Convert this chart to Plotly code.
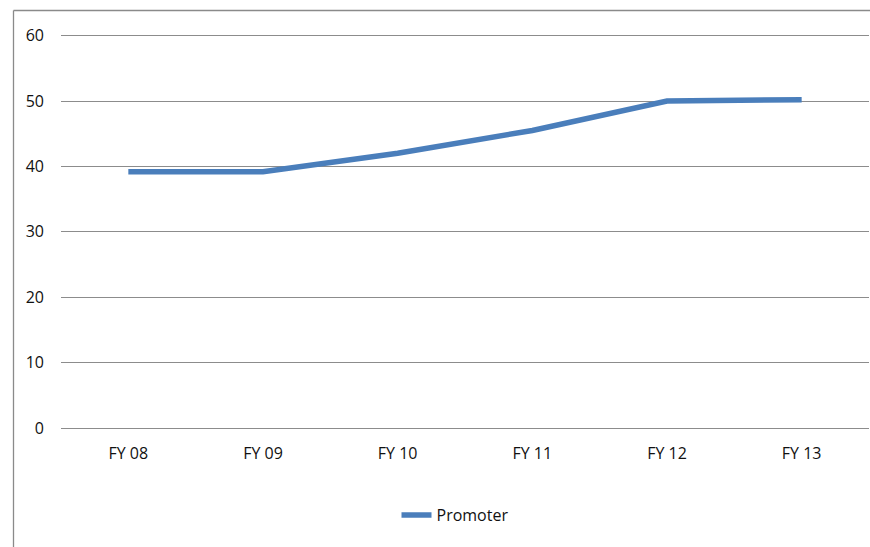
import plotly.graph_objects as go

# Promoter holding by fiscal year
years = ["FY 08", "FY 09", "FY 10", "FY 11", "FY 12", "FY 13"]
promoter = [39.2, 39.2, 42.0, 45.5, 50.0, 50.2]
y_ticks = [0, 10, 20, 30, 40, 50, 60]

W, H = 870, 547
L, R, T, B = 61, 1, 33, 119
GRID = "#8c8c8c"
TEXT = "#111111"
FONT = "Open Sans"

fig = go.Figure()
fig.add_trace(go.Scatter(
    x=years, y=promoter, mode="lines", name="Promoter",
    line=dict(color="#4A7EBB", width=5.5),
))

plot_w = W - L - R
plot_h = H - T - B

def px_x(px):
    return (px - L) / plot_w

def px_y(py):
    return (H - B - py) / plot_h

# outer chart frame (left and top edges visible)
frame = dict(color="#8a8a8a", width=1.3)
fig.add_shape(type="line", xref="paper", yref="paper",
              x0=px_x(13.5), x1=px_x(13.5), y0=px_y(10.5), y1=px_y(560), line=frame)
fig.add_shape(type="line", xref="paper", yref="paper",
              x0=px_x(13.5), x1=px_x(880), y0=px_y(10.5), y1=px_y(10.5), line=frame)

fig.update_layout(
    width=W, height=H,
    margin=dict(l=L, r=R, t=T, b=B, pad=0),
    paper_bgcolor="white", plot_bgcolor="white",
    font=dict(family=FONT, size=16, color=TEXT),
    showlegend=True,
    legend=dict(orientation="h", x=px_x(455), y=px_y(515),
                xanchor="center", yanchor="middle",
                font=dict(family=FONT, size=16, color=TEXT),
                bgcolor="rgba(0,0,0,0)"),
    xaxis=dict(
        type="category", range=[-0.5, 5.5],
        showgrid=False, zeroline=False, showline=False,
        ticks="", ticklabelstandoff=14,
        tickfont=dict(family=FONT, size=16, color=TEXT),
    ),
    yaxis=dict(
        range=[0, 60.4], tickvals=y_ticks,
        showgrid=True, gridcolor=GRID, gridwidth=1.3,
        zeroline=True, zerolinecolor=GRID, zerolinewidth=1.3,
        showline=False, ticks="", ticklabelstandoff=16,
        tickfont=dict(family=FONT, size=16, color=TEXT),
    ),
)

fig.write_html("out.html")
